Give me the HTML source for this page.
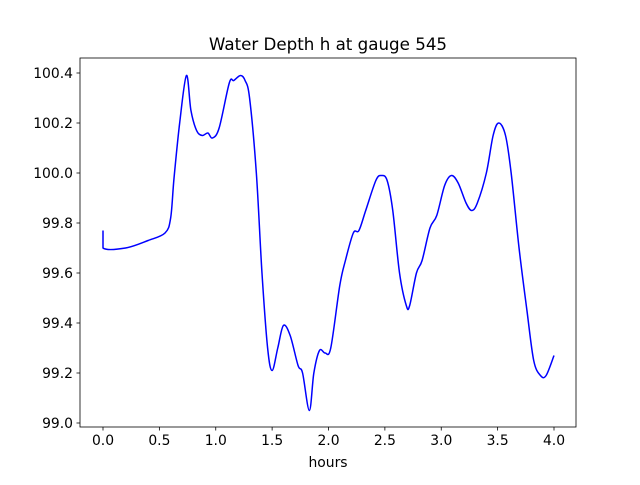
<!DOCTYPE html>
<html><head><meta charset="utf-8"><style>
body{margin:0;background:#fff}
svg text{font-family:"DejaVu Sans","Liberation Sans",sans-serif;fill:#000}
</style></head><body>
<svg width="640" height="480" xmlns="http://www.w3.org/2000/svg">
<rect width="640" height="480" fill="#fff"/>
<text x="328" y="50" font-size="16.7" text-anchor="middle">Water Depth h at gauge 545</text>
<g id="ticks"></g>
<path id="line" fill="none" stroke="#0000ff" stroke-width="1.5" stroke-linejoin="round"/>
<rect x="80" y="58" width="496" height="369" fill="none" stroke="#000" stroke-width="0.8"/>
<text x="328" y="467" font-size="13.9" text-anchor="middle">hours</text>
</svg>
<script>
const times=[0,0,0.2,0.4,0.55,0.6,0.63,0.68,0.74,0.78,0.83,0.88,0.93,0.97,1.03,1.12,1.16,1.22,1.26,1.3,1.36,1.41,1.46,1.5,1.55,1.6,1.66,1.73,1.77,1.83,1.87,1.92,1.97,2.02,2.1,2.15,2.22,2.27,2.33,2.42,2.47,2.52,2.57,2.63,2.69,2.72,2.78,2.83,2.9,2.96,3.03,3.09,3.15,3.22,3.27,3.32,3.4,3.46,3.51,3.57,3.62,3.69,3.76,3.82,3.88,3.93,4.0];
const depths=[99.77,99.70,99.70,99.73,99.76,99.82,99.98,100.2,100.39,100.25,100.17,100.15,100.16,100.14,100.18,100.36,100.37,100.39,100.37,100.3,100.0,99.6,99.3,99.21,99.3,99.39,99.35,99.23,99.2,99.05,99.2,99.29,99.28,99.3,99.55,99.65,99.76,99.77,99.85,99.97,99.99,99.97,99.85,99.6,99.47,99.47,99.6,99.65,99.78,99.83,99.95,99.99,99.96,99.88,99.85,99.88,100.0,100.15,100.2,100.15,100.0,99.7,99.45,99.25,99.19,99.19,99.27];
const xTicks=[0,0.5,1,1.5,2,2.5,3,3.5,4];
const xTickLabels=["0.0","0.5","1.0","1.5","2.0","2.5","3.0","3.5","4.0"];
const yTicks=[99.0,99.2,99.4,99.6,99.8,100.0,100.2,100.4];
const yTickLabels=["99.0","99.2","99.4","99.6","99.8","100.0","100.2","100.4"];
const X=t=>103+t*112.75, Y=v=>73+(100.4-v)*250;
const NS="http://www.w3.org/2000/svg";
const g=document.getElementById('ticks');
function mk(tag,a){const e=document.createElementNS(NS,tag);for(const k in a)e.setAttribute(k,a[k]);g.appendChild(e);return e;}
xTicks.forEach((t,i)=>{
 const l=mk('line',{x1:X(t),x2:X(t),y1:427,y2:430.5,stroke:'#000','stroke-width':0.8});
 
 
 const tx=mk('text',{x:X(t),y:445,'font-size':13.9,'text-anchor':'middle'});tx.textContent=xTickLabels[i];
 
 
});
yTicks.forEach((v,i)=>{
 const l=mk('line',{x1:76.5,x2:80,y1:Y(v),y2:Y(v),stroke:'#000','stroke-width':0.8});
 
 
 const tx=mk('text',{x:73,y:Y(v)+5,'font-size':13.9,'text-anchor':'end'});tx.textContent=yTickLabels[i];
 
 
});
const pts=times.map((t,i)=>[X(t),Y(depths[i])]);
let d='M'+pts[0][0]+','+pts[0][1];
for(let i=1;i<pts.length;i++){
 const p0=pts[Math.max(i-2,0)],p1=pts[i-1],p2=pts[i],p3=pts[Math.min(i+1,pts.length-1)];
 if(i===1){d+=' L'+p2[0]+','+p2[1];continue;}
 const c1=[p1[0]+(p2[0]-p0[0])/6,p1[1]+(p2[1]-p0[1])/6],c2=[p2[0]-(p3[0]-p1[0])/6,p2[1]-(p3[1]-p1[1])/6];
 d+=' C'+c1+' '+c2+' '+p2;
}
document.getElementById('line').setAttribute('d',d);
</script>
</body></html>
